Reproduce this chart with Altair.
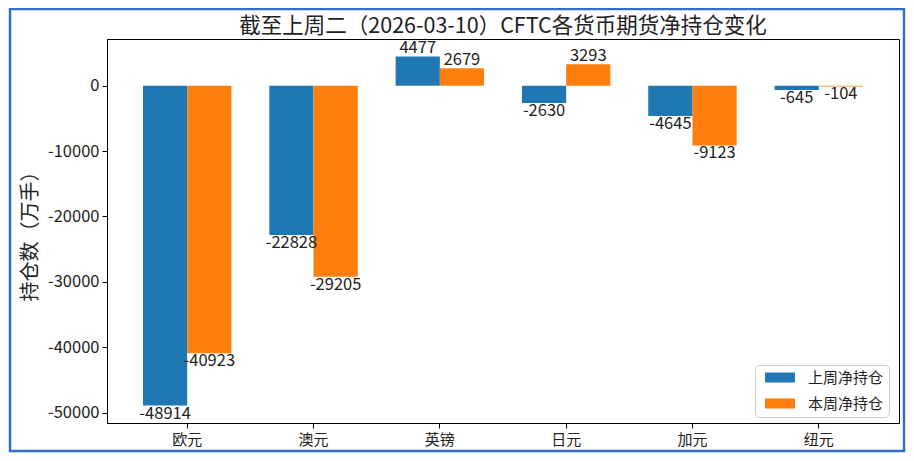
import altair as alt
import pandas as pd

categories = ["欧元", "澳元", "英镑", "日元", "加元", "纽元"]
series_names = ["上周净持仓", "本周净持仓"]
last_week = [-48914, -22828, 4477, -2630, -4645, -645]
this_week = [-40923, -29205, 2679, 3293, -9123, -104]
y_ticks = [-50000, -40000, -30000, -20000, -10000, 0]
colors = ["#1f77b4", "#ff7f0e"]
title_text = "截至上周二（2026-03-10）CFTC各货币期货净持仓变化"

rows = []
for c, a, b in zip(categories, last_week, this_week):
    rows.append({"currency": c, "series": series_names[0], "value": a})
    rows.append({"currency": c, "series": series_names[1], "value": b})
df = pd.DataFrame(rows)

FONT = "Noto Sans CJK SC"
W, H = 792, 384

x_enc = alt.X("currency:N", sort=categories, title=None,
              scale=alt.Scale(paddingInner=0.3, paddingOuter=0.285),
              axis=alt.Axis(labelAngle=0, labelFontSize=15, labelColor="#222",
                            tickSize=5, tickColor="black", domainColor="black",
                            labelPadding=4, grid=False))
xoff = alt.XOffset("series:N", sort=series_names,
                   scale=alt.Scale(paddingInner=0, paddingOuter=0))
y_scale = alt.Scale(domain=[-51584, 7147], nice=False, zero=False)

base = alt.Chart(df).transform_calculate(label="'' + datum.value")

bars = base.mark_bar().encode(
    x=x_enc,
    xOffset=xoff,
    y=alt.Y("value:Q", scale=y_scale, title="持仓数（万手）",
            axis=alt.Axis(values=y_ticks, grid=False, labelFontSize=16.5,
                          labelExpr="'' + datum.value",
                          labelColor="#222", tickSize=5, tickColor="black",
                          domainColor="black", titleFontSize=20,
                          titleFontWeight="normal", titleColor="#222",
                          titlePadding=7, labelPadding=3)),
    y2=alt.datum(0),
    color=alt.Color("series:N", sort=series_names,
                    scale=alt.Scale(domain=series_names, range=colors),
                    legend=alt.Legend(title=None, orient="none",
                                      legendX=648, legendY=326)),
)

pos_labels = base.transform_filter("datum.value >= 0").mark_text(
    baseline="alphabetic", dy=-3, fontSize=16.5, color="#222"
).encode(x=alt.X("currency:N", sort=categories), xOffset=xoff,
         y=alt.Y("value:Q", scale=y_scale), text="label:N")

neg_labels = base.transform_filter("datum.value < 0").mark_text(
    baseline="top", dy=0, fontSize=16.5, color="#222"
).encode(x=alt.X("currency:N", sort=categories), xOffset=xoff,
         y=alt.Y("value:Q", scale=y_scale), text="label:N")

one = pd.DataFrame({"t": [title_text]})

title_mark = alt.Chart(one).mark_text(
    fontSize=21.5, color="#222", baseline="alphabetic", align="center"
).encode(x=alt.value(W / 2), y=alt.value(-6.5), text="t:N")

border = alt.Chart(one).mark_rect(
    filled=False, stroke="#2e6fc9", strokeWidth=2.5
).encode(x=alt.value(-97), x2=alt.value(797), y=alt.value(-30), y2=alt.value(412))

chart = alt.layer(bars, pos_labels, neg_labels, title_mark, border).properties(
    width=W, height=H,
    autosize=alt.AutoSizeParams(type="none"),
    padding={"left": 99, "top": 31, "right": 7, "bottom": 30},
).configure(font=FONT).configure_view(
    stroke="black", strokeWidth=1
).configure_legend(
    symbolType="M-0.5,-1H5.5V1H-0.5Z", symbolSize=100, symbolStrokeWidth=0,
    symbolOpacity=1, padding=5, rowPadding=10, labelOffset=33,
    labelFontSize=15, labelColor="#222", fillColor="white",
    strokeColor="#cccccc", cornerRadius=4,
)

chart.save("out.html", embed_options={"renderer": "svg", "actions": False})
